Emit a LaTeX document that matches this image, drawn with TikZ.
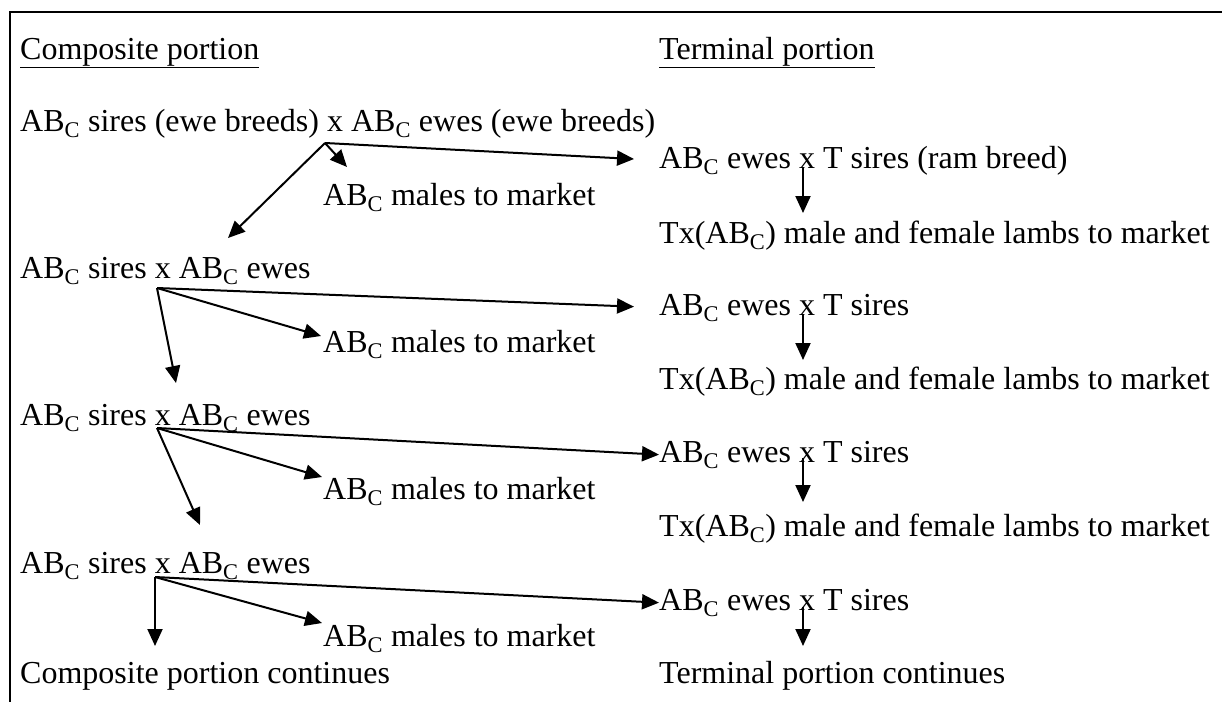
\documentclass[tikz,border=0pt]{standalone}
\usepackage{fontspec}
\setmainfont{Liberation Serif}
\usetikzlibrary{arrows.meta}
\newcommand{\abC}{AB\textsubscript{C}}

\begin{document}
\begin{tikzpicture}[
    x=1pt, y=-1pt,
    every node/.style={font=\fontsize{32}{38}\selectfont},
    lbl/.style={anchor=base west, inner sep=0pt},
    arrow/.style={-{Triangle[length=17pt, width=15pt]}, line width=2pt}
]
\useasboundingbox (0,0) rectangle (1222,702);
\draw[line width=2.5pt] (1222,12) -- (10,12) -- (10,702);

% headings
\node[lbl] (hdrComp) at (20,59) {\underline{Composite portion}};
\node[lbl] (hdrTerm) at (659,59) {\underline{Terminal portion}};

% composite column
\node[lbl] (sires1) at (20,131) {\abC{} sires (ewe breeds) x \abC{} ewes (ewe breeds)};
\node[lbl] (males1) at (323,205) {\abC{} males to market};
\node[lbl] (sires2) at (20,278) {\abC{} sires x \abC{} ewes};
\node[lbl] (males2) at (323,352) {\abC{} males to market};
\node[lbl] (sires3) at (20,425) {\abC{} sires x \abC{} ewes};
\node[lbl] (males3) at (323,499) {\abC{} males to market};
\node[lbl] (sires4) at (20,573) {\abC{} sires x \abC{} ewes};
\node[lbl] (males4) at (323,646) {\abC{} males to market};
\node[lbl] (compCont) at (20,683) {Composite portion continues};

% terminal column
\node[lbl] (ewesT1) at (659,168) {\abC{} ewes x T sires (ram breed)};
\node[lbl] (lambs1) at (659,243) {Tx(\abC) male and female lambs to market};
\node[lbl] (ewesT2) at (659,315) {\abC{} ewes x T sires};
\node[lbl] (lambs2) at (659,389) {Tx(\abC) male and female lambs to market};
\node[lbl] (ewesT3) at (659,462) {\abC{} ewes x T sires};
\node[lbl] (lambs3) at (659,536) {Tx(\abC) male and female lambs to market};
\node[lbl] (ewesT4) at (659,610) {\abC{} ewes x T sires};
\node[lbl] (termCont) at (659,683) {Terminal portion continues};

% branch points under the crosses
\coordinate (x1) at (325,143);
\coordinate (x2) at (157,288);
\coordinate (x3) at (157,428);
\coordinate (x4) at (155,577);
\coordinate (t1) at (803,167);
\coordinate (t2) at (803,314);
\coordinate (t3) at (803,458);
\coordinate (t4) at (803,607);

% free arrow ends
\coordinate (m1) at (347,167);
\coordinate (m2) at (321,336);
\coordinate (m3) at (322,477);
\coordinate (m4) at (322,623);
\coordinate (d1) at (228,238);
\coordinate (d2) at (176,383);
\coordinate (d3) at (200,525);
\coordinate (d4) at (155,646);
\coordinate (l1) at (803,213);
\coordinate (l2) at (803,360);
\coordinate (l3) at (803,502);
\coordinate (l4) at (803,646);

\draw[arrow] (x1) -- (m1);
\draw[arrow] (x1) -- (d1);
\draw[arrow, shorten >=25pt] (x1) -- (ewesT1.west);
\draw[arrow] (x2) -- (m2);
\draw[arrow] (x2) -- (d2);
\draw[arrow, shorten >=25pt] (x2) -- (ewesT2.west);
\draw[arrow] (x3) -- (m3);
\draw[arrow] (x3) -- (d3);
\draw[arrow] (x3) -- (ewesT3.west);
\draw[arrow] (x4) -- (m4);
\draw[arrow] (x4) -- (d4);
\draw[arrow] (x4) -- (ewesT4.west);

\draw[arrow] (t1) -- (l1);
\draw[arrow] (t2) -- (l2);
\draw[arrow] (t3) -- (l3);
\draw[arrow] (t4) -- (l4);

\end{tikzpicture}
\end{document}
